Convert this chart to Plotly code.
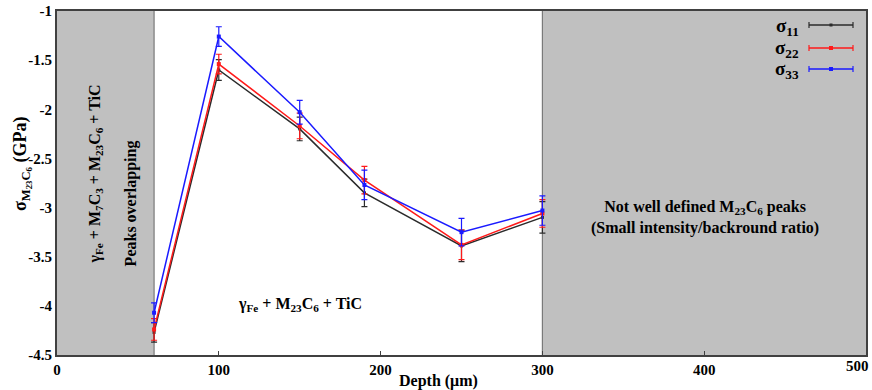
import plotly.graph_objects as go

# ---- data ----
depth = [60, 100, 150, 190, 250, 300]
s11 = [-4.27, -1.60, -2.20, -2.85, -3.39, -3.10]
s22 = [-4.24, -1.54, -2.17, -2.72, -3.38, -3.06]
s33 = [-4.07, -1.26, -2.03, -2.77, -3.25, -3.03]
err11 = [0.10, 0.105, 0.12, 0.14, 0.16, 0.16]
err22 = [0.11, 0.10, 0.13, 0.14, 0.15, 0.14]
err33 = [0.10, 0.10, 0.12, 0.15, 0.14, 0.15]

series_names = ["σ<sub>11</sub>", "σ<sub>22</sub>", "σ<sub>33</sub>"]
series_colors = ["#2b2b2b", "#ff1a1a", "#1a1aff"]

y_ticks = [-1, -1.5, -2, -2.5, -3, -3.5, -4, -4.5]
y_ticklabels = ["-1", "-1.5", "-2", "-2.5", "-3", "-3.5", "-4", "-4.5"]
x_ticks = [0, 100, 200, 300, 400, 500]
x_ticklabels = ["0", "100", "200", "300", "400", "500"]

grey_zones = [(0, 60), (300, 500)]

W, H = 872, 390
ML, MR, MT, MB = 57, 6, 11, 35
PW, PH = W - ML - MR, H - MT - MB

def px(x):
    return (x - ML) / PW

def py(y):
    return (H - MB - y) / PH

def bold(t):
    return "<b>" + t + "</b>" if t else t

FONT = "Liberation Serif"
fig = go.Figure()

for ys, es, col, nm in zip([s11, s22, s33], [err11, err22, err33], series_colors, series_names):
    fig.add_trace(go.Scatter(
        x=depth, y=ys, mode="lines+markers", name=nm,
        line=dict(color=col, width=1.5),
        marker=dict(symbol="square", size=4 if col != series_colors[0] else 3, color=col),
        error_y=dict(type="data", array=es, visible=True, color=col, thickness=1.2, width=3),
        showlegend=False, cliponaxis=False,
    ))

shapes = []
for x0, x1 in grey_zones:
    shapes.append(dict(type="rect", xref="x", yref="y", x0=x0, x1=x1, y0=-4.5, y1=-1,
                       fillcolor="#c0c0c0", line=dict(width=0), layer="below"))
for xv in [60, 300]:
    shapes.append(dict(type="line", xref="x", yref="y", x0=xv, x1=xv, y0=-4.5, y1=-1,
                       line=dict(color="#7a7a7a", width=1.2), layer="below"))

# manual legend (text left, sample right)
leg_line_y = [25, 48, 69]
leg_text_y = [27, 49, 70]
annotations = []
for i, (nm, col) in enumerate(zip(series_names, series_colors)):
    yl = py(leg_line_y[i])
    shapes.append(dict(type="line", xref="paper", yref="paper", x0=px(809), x1=px(853), y0=yl, y1=yl,
                       line=dict(color=col, width=1.5)))
    for xe in [809, 853]:
        shapes.append(dict(type="line", xref="paper", yref="paper", x0=px(xe), x1=px(xe),
                           y0=py(leg_line_y[i] - 3), y1=py(leg_line_y[i] + 3),
                           line=dict(color=col, width=1.2)))
    s = 1.5 if i == 0 else 2
    shapes.append(dict(type="rect", xref="paper", yref="paper", x0=px(831 - s), x1=px(831 + s),
                       y0=py(leg_line_y[i] + s), y1=py(leg_line_y[i] - s),
                       fillcolor=col, line=dict(width=0)))
    annotations.append(dict(xref="paper", yref="paper", x=px(801), y=py(leg_text_y[i]),
                            xanchor="right", yanchor="middle", showarrow=False,
                            text=bold(nm), font=dict(family=FONT, size=19, color="black")))

# last x tick label drawn as annotation so it is not cut at the page edge
tick_font = dict(family=FONT, size=15, color="black")
x_ticktext_axis = [bold(t) for t in x_ticklabels[:-1]] + [""]
annotations.append(dict(xref="x", yref="paper", x=x_ticks[-1], y=0, yanchor="top", xanchor="right",
                        xshift=5, yshift=-1, showarrow=False, text=bold(x_ticklabels[-1]), font=tick_font))

annotations += [
    dict(xref="x", yref="y", x=23.5, y=-1 - (266 - 11) / 98.3, xanchor="center", yanchor="bottom",
         textangle=-90, showarrow=False,
         text="<b>γ<sub>Fe</sub> + M<sub>7</sub>C<sub>3</sub> + M<sub>23</sub>C<sub>6</sub> + TiC</b>",
         font=dict(family=FONT, size=16, color="black")),
    dict(xref="x", yref="y", x=46, y=-1 - (268 - 11) / 98.3, xanchor="center", yanchor="bottom",
         textangle=-90, showarrow=False,
         text="<b>Peaks overlapping</b>", font=dict(family=FONT, size=16, color="black")),
    dict(xref="x", yref="y", x=150.3, y=-3.99, xanchor="center", yanchor="middle", showarrow=False,
         text="<b>γ<sub>Fe</sub> + M<sub>23</sub>C<sub>6</sub> + TiC</b>",
         font=dict(family=FONT, size=16, color="black")),
    dict(xref="x", yref="y", x=400.5, y=-3.10, xanchor="center", yanchor="middle", showarrow=False,
         text="<b>Not well defined M<sub>23</sub>C<sub>6</sub> peaks<br>(Small intensity/backround ratio)</b>",
         font=dict(family=FONT, size=16, color="black")),
    dict(xref="paper", yref="paper", x=px(438), y=py(381), xanchor="center", yanchor="middle",
         showarrow=False, text="<b>Depth (μm)</b>", font=dict(family=FONT, size=16, color="black")),
    dict(xref="paper", yref="paper", x=px(22), y=py(164), xanchor="center", yanchor="middle",
         textangle=-90, showarrow=False,
         text="<b>σ<sub>M<sub>23</sub>C<sub>6</sub></sub> (GPa)</b>",
         font=dict(family=FONT, size=18, color="black")),
]

fig.update_layout(
    width=W, height=H,
    margin=dict(l=ML, r=MR, t=MT, b=MB, autoexpand=False),
    plot_bgcolor="white", paper_bgcolor="white",
    shapes=shapes, annotations=annotations,
    showlegend=False,
    xaxis=dict(range=[0, 500], tickvals=x_ticks, ticktext=x_ticktext_axis, automargin=False,
               showgrid=False, zeroline=False, showline=True, mirror=True,
               linecolor="#404040", linewidth=2, ticks="inside", ticklen=4, tickcolor="#404040",
               tickfont=tick_font, ticklabelstandoff=0),
    yaxis=dict(range=[-4.5, -1], tickvals=y_ticks, ticktext=[bold(t) for t in y_ticklabels],
               automargin=False,
               showgrid=False, zeroline=False, showline=True, mirror=True,
               linecolor="#404040", linewidth=2, ticks="",
               tickfont=tick_font, ticklabeloverflow="allow"),
    font=dict(family=FONT),
)

fig.write_html("out.html", config={"displayModeBar": False},
               post_script="document.body.style.margin='0';document.body.style.overflow='hidden';")
